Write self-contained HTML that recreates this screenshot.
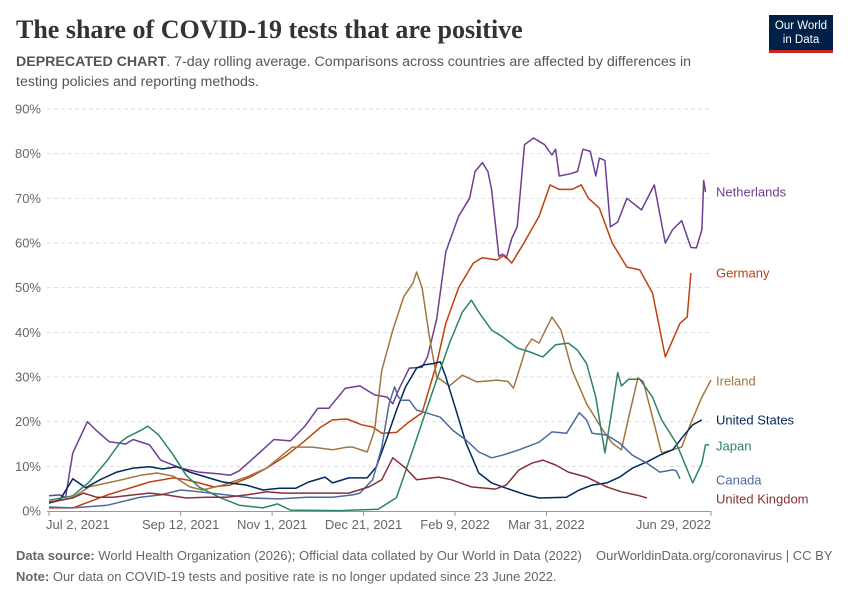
<!DOCTYPE html>
<html><head><meta charset="utf-8">
<style>
body{margin:0;background:#fff;font-family:"Liberation Sans",sans-serif;}
#wrap{position:relative;width:850px;height:600px;overflow:hidden;}
.t{position:absolute;white-space:nowrap;}
</style></head><body>
<div id="wrap">
<div class="t" style="left:16px;top:15px;font-family:'Liberation Serif',serif;font-size:26px;font-weight:bold;color:#333;">The share of COVID-19 tests that are positive</div>
<div class="t" style="left:16px;top:52px;font-size:14.2px;color:#555;line-height:20px;"><b>DEPRECATED CHART</b>. 7-day rolling average. Comparisons across countries are affected by differences in<br>testing policies and reporting methods.</div>
<div style="position:absolute;left:769px;top:15px;width:64px;height:38px;background:#002147;border-bottom:3px solid #ce261e;box-sizing:border-box;color:#fff;font-size:11.5px;line-height:14px;text-align:center;padding-top:4px;">Our World<br>in Data</div>
<svg id="chart" width="850" height="600" style="position:absolute;left:0;top:0;"></svg>
<div class="t" style="left:16px;top:548px;font-size:13px;color:#666;"><b>Data source:</b> World Health Organization (2026); Official data collated by Our World in Data (2022)</div>
<div class="t" style="left:596px;top:548px;font-size:13px;color:#666;">OurWorldinData.org/coronavirus | CC BY</div>
<div class="t" style="left:16px;top:569px;font-size:13px;color:#666;"><b>Note:</b> Our data on COVID-19 tests and positive rate is no longer updated since 23 June 2022.</div>
</div>
<script>
const yTicks=[0,10,20,30,40,50,60,70,80,90];
const xTickDays=[0,72,122,172,222,272,362];
const xTickLabels=["Jul 2, 2021","Sep 12, 2021","Nov 1, 2021","Dec 21, 2021","Feb 9, 2022","Mar 31, 2022","Jun 29, 2022"];
const seriesNames=["Netherlands","Germany","Ireland","United States","Japan","Canada","United Kingdom"];
const seriesColors=["#6d3e91","#c0400f","#a2753f","#00295b","#2c8465","#4c6a9c","#883039"];
const netherlandsDays=[0,6,9,13,21,26,33,42,46,55,61,72,82,93,99,104,115,123,132,140,147,153,162,170,178,185,188,191,197,204,207,212,217,224,230,233,237,240,242,246,248,250,253,256,260,265,271,275,277,279,285,289,292,296,299,301,304,307,311,316,324,331,337,341,346,351,354,357,358,359];
const netherlandsVals=[3.4,3.6,3,13,20,18,15.5,15,16,14.8,11.4,9.6,8.7,8.3,8,9,13,16,15.7,19,23,23,27.5,28,26,25.5,24,27,32,32.2,34.5,43,58,66,70,76,78,76,72,57,57.5,56.6,61,63.6,82,83.5,82,79.7,81,75,75.5,76,81,80.5,75,79,78.5,63.6,64.7,70,67.4,73,60,63,65,59,58.9,63,74,71.4];
const germanyDays=[0,13,32,55,68,75,82,90,99,110,119,130,139,148,155,163,171,177,182,190,197,204,212,217,224,232,237,245,249,253,259,268,274,279,286,291,295,301,308,316,323,330,337,345,349,351];
const germanyVals=[0.7,0.7,3.6,6.5,7.4,7,6.3,5.4,5.8,7.6,9.6,12.5,15.4,18.6,20.4,20.6,19.3,18.8,17.4,17.6,20,22,33,42,50,55.5,56.7,56.2,57.3,55.5,59.5,66,73,72,72,73,70,67.8,60,54.6,54,48.8,34.5,42,43.4,53.3];
const irelandDays=[0,13,22,40,50,59,68,77,84,95,108,119,133,144,155,163,166,174,178,182,188,194,199,201,204,208,212,219,226,234,245,251,254,261,264,268,275,280,286,294,303,308,313,317,322,325,330,335,341,346,351,357,362];
const irelandVals=[1.8,3,5.4,7,8,8.5,7.8,5.4,4.7,5.8,7.6,9.6,14.3,14.3,13.7,14.3,14.3,13.2,18,31.5,40.5,48,51,53.5,50,39,30,28,30.4,28.9,29.3,29,27.5,36.7,38.5,37.6,43.4,40.5,31.6,24,18,15.2,13.7,21,29.8,29,21,13,13.7,14.3,19.7,25.5,29.3];
const usDays=[0,6,13,20,28,37,46,55,62,70,77,86,95,108,117,126,135,142,151,155,164,174,179,185,190,195,201,205,210,214,217,223,228,235,242,250,261,268,283,290,297,305,312,319,327,334,341,346,352,357];
const usVals=[1.8,2.5,7.2,5.2,7,8.7,9.6,9.9,9.4,9.9,8.7,7.6,6.5,5.8,4.7,5.1,5.1,6.5,7.6,6.3,7.4,7.4,9.9,16.6,22.6,27.8,32,32.7,33,33.4,30,22,15.2,8.5,6.3,5.1,3.6,2.9,3.1,4.7,5.8,6.3,7.6,9.6,11,12.5,13.7,16.3,19.3,20.4];
const japanDays=[0,13,22,32,39,43,50,54,60,68,75,82,93,104,117,125,132,159,180,190,199,210,219,226,231,235,242,248,256,263,270,277,284,289,294,299,304,307,311,313,317,323,330,335,343,352,357,359,361];
const japanVals=[2.4,3.4,6.5,11.4,15.4,16.6,18,19,17,12.5,8,5.4,3.1,1.3,0.7,1.6,0.2,0.1,0.4,3,13.7,27,37.6,44.5,47.2,44.5,40.5,39,36.5,35.6,34.5,37.2,37.6,36,33,25.5,13,20.4,31,28,29.5,29.5,25.5,20.4,15.2,6.3,10.7,14.8,14.8];
const canadaDays=[0,13,32,50,61,72,82,97,111,126,141,155,166,170,177,182,186,189,191,193,197,201,206,214,221,228,235,242,248,257,268,275,283,290,294,297,305,312,319,327,334,341,343,345];
const canadaVals=[0.9,0.7,1.3,3.1,3.6,4.7,4.3,3.6,2.9,2.7,3.1,3.1,3.6,4,7,14.3,24,27.8,25.5,24.8,24.8,22.6,22,21,18,15.9,13.2,11.9,12.5,13.7,15.4,17.7,17.4,22,20.4,17.4,17,15.2,12.5,10.7,8.7,9.2,9,7.2];
const ukDays=[0,13,19,26,35,46,55,64,75,86,97,108,119,128,137,148,164,175,182,188,195,201,213,220,231,244,250,257,264,270,277,284,294,305,313,323,327];
const ukVals=[2,2.9,4,3.1,3.1,3.6,4,3.6,2.9,3.1,3.1,3.6,4.3,4,4,4,4,5.4,7,11.9,9.6,7,7.6,7,5.4,4.9,5.8,9.2,10.7,11.4,10.3,8.7,7.6,5.4,4.3,3.4,2.9];
const allDays=[netherlandsDays,germanyDays,irelandDays,usDays,japanDays,canadaDays,ukDays];
const allVals=[netherlandsVals,germanyVals,irelandVals,usVals,japanVals,canadaVals,ukVals];
const labelY=[192,273,381,420,446,480,499];

const svg=document.getElementById('chart');
const NS='http://www.w3.org/2000/svg';
const X0=49,X1=711,Y0=511,Y90=109;
function xs(d){return X0+d*(X1-X0)/362;}
function ys(v){return Y0-v*(Y0-Y90)/90;}
function mk(tag,attrs){const e=document.createElementNS(NS,tag);for(const k in attrs)e.setAttribute(k,attrs[k]);svg.appendChild(e);return e;}
yTicks.forEach(v=>{
  if(v>0){const g=mk('line',{x1:47,x2:711,y1:ys(v),y2:ys(v),stroke:'#ddd','stroke-dasharray':'4,3'});
  
  }
  const t=mk('text',{x:41,y:ys(v)+4.5,'text-anchor':'end','font-size':13,fill:'#666','font-family':'Liberation Sans, sans-serif'});
  t.textContent=v+'%';
  
  
});
const ax=mk('line',{x1:47,x2:711,y1:Y0+0.5,y2:Y0+0.5,stroke:'#999'});


xTickDays.forEach((d,i)=>{
  const tk=mk('line',{x1:xs(d),x2:xs(d),y1:Y0,y2:Y0+5,stroke:'#999'});
  
  
  const anchor=i==0?'start':(i==xTickDays.length-1?'end':'middle');
  const t=mk('text',{x:i==0?X0-3:xs(d),y:529,'text-anchor':anchor,'font-size':13,fill:'#666','font-family':'Liberation Sans, sans-serif'});
  t.textContent=xTickLabels[i];
  
  
});
seriesNames.forEach((n,i)=>{
  const pts=allDays[i].map((d,j)=>xs(d).toFixed(1)+','+ys(allVals[i][j]).toFixed(1)).join(' ');
  const p=mk('polyline',{points:pts,fill:'none',stroke:seriesColors[i],'stroke-width':1.5,'stroke-linejoin':'round'});
  
  
  const t=mk('text',{x:716,y:labelY[i]+4.5,'font-size':13,fill:seriesColors[i],'font-family':'Liberation Sans, sans-serif'});
  t.textContent=n;
  
  
});
</script>
</body></html>
